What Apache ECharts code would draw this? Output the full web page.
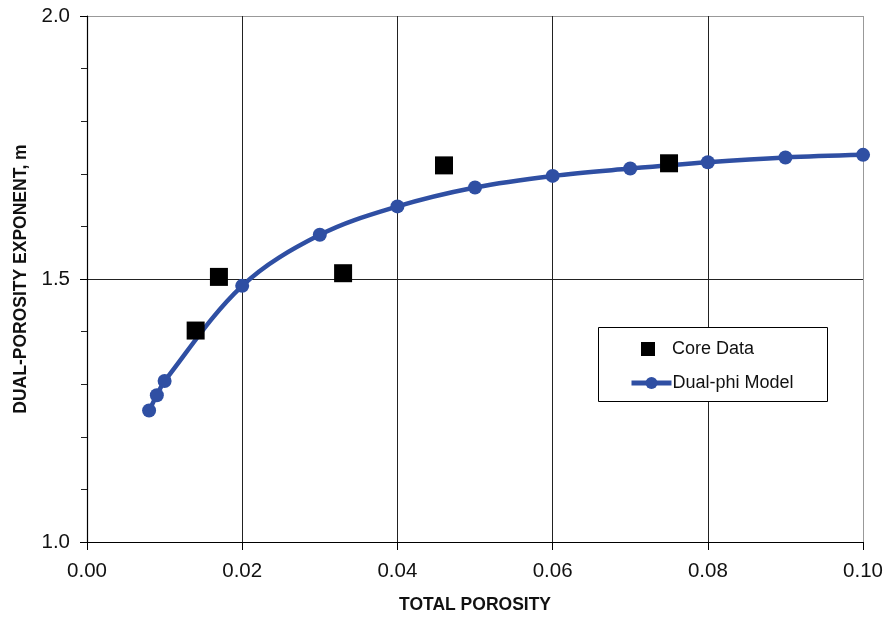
<!DOCTYPE html>
<html>
<head>
<meta charset="utf-8">
<script src="https://cdn.jsdelivr.net/npm/echarts@6/dist/echarts.min.js"></script>
<style>
  html, body { margin: 0; padding: 0; background: #fff; }
  #chart { width: 886px; height: 619px; }
</style>
</head>
<body>
<div id="chart"></div>
<script>
// Dual-phi model curve: total porosity vs. dual-porosity exponent m
const modelPorosity = [0.008, 0.009, 0.010, 0.020, 0.030, 0.040, 0.050, 0.060, 0.070, 0.080, 0.090, 0.100];
const modelM        = [1.250, 1.279, 1.306, 1.487, 1.584, 1.638, 1.674, 1.696, 1.710, 1.722, 1.731, 1.736];

// Core measurements
const corePorosity = [0.014, 0.017, 0.033, 0.046, 0.075];
const coreM        = [1.402, 1.504, 1.511, 1.716, 1.720];

const xTicks = { min: 0, max: 0.10, step: 0.02 };
const yTicks = { min: 1.0, max: 2.0, step: 0.5 };

const FONT = '"Liberation Sans", Arial, Helvetica, sans-serif';
const BLUE = '#2f4fa3';
const legendText = { fontFamily: FONT, fontSize: 18, color: '#111' };

const chart = echarts.init(document.getElementById('chart'), null, { renderer: 'canvas' });

chart.setOption({
  animation: false,
  backgroundColor: '#ffffff',
  textStyle: { fontFamily: FONT },
  grid: { left: 87, right: 20, top: 16, bottom: 75, containLabel: false },
  xAxis: {
    type: 'value',
    min: xTicks.min, max: xTicks.max, interval: xTicks.step,
    name: 'TOTAL POROSITY',
    nameLocation: 'middle',
    nameGap: 54,
    nameTextStyle: { fontFamily: FONT, fontSize: 17.5, fontWeight: 'bold', color: '#111' },
    axisLine: { onZero: false, lineStyle: { color: '#000', width: 1.2 } },
    axisTick: { show: true, inside: false, length: 8, lineStyle: { color: '#000', width: 1 } },
    axisLabel: {
      margin: 19, fontFamily: FONT, fontSize: 20.5, color: '#111',
      formatter: v => v.toFixed(2)
    },
    splitLine: {
      show: true,
      lineStyle: { color: ['#000', '#222', '#222', '#222', '#222', '#999'], width: 1 }
    }
  },
  yAxis: {
    type: 'value',
    min: yTicks.min, max: yTicks.max, interval: yTicks.step,
    name: 'DUAL-POROSITY EXPONENT, m',
    nameLocation: 'middle',
    nameGap: 57,
    nameTextStyle: { fontFamily: FONT, fontSize: 17.5, fontWeight: 'bold', color: '#111' },
    axisLine: { onZero: false, lineStyle: { color: '#000', width: 1.2 } },
    axisTick: { show: true, inside: false, length: 7, lineStyle: { color: '#000', width: 1 } },
    minorTick: { show: true, splitNumber: 5, length: 6, lineStyle: { color: '#222', width: 1 } },
    axisLabel: {
      margin: 17, fontFamily: FONT, fontSize: 20.5, color: '#111',
      formatter: v => v.toFixed(1)
    },
    splitLine: {
      show: true,
      lineStyle: { color: ['#000', '#222', '#999'], width: 1 }
    }
  },
  legend: [
    {
      left: 641, top: 340,
      padding: 0,
      itemWidth: 14, itemHeight: 14,
      textStyle: Object.assign({ padding: [0, 0, 0, 12] }, legendText),
      data: [{ name: 'Core Data', icon: 'rect' }]
    },
    {
      left: 629, top: 374,
      padding: 0,
      itemWidth: 40, itemHeight: 15,
      lineStyle: { width: 5, color: BLUE },
      textStyle: Object.assign({ padding: [0, 0, 0, -4] }, legendText),
      data: [{ name: 'Dual-phi Model' }]
    }
  ],
  graphic: [{
    type: 'rect',
    left: 598, top: 327,
    shape: { width: 229, height: 74 },
    style: { fill: '#fff', stroke: '#000', lineWidth: 1 },
    z: 2
  }],
  series: [
    {
      name: 'Dual-phi Model',
      type: 'line',
      data: modelPorosity.map((x, i) => [x, modelM[i]]),
      smooth: 0.35,
      symbol: 'circle',
      symbolSize: 14,
      lineStyle: { color: BLUE, width: 4.5 },
      itemStyle: { color: BLUE, opacity: 1 },
      z: 3
    },
    {
      name: 'Core Data',
      type: 'scatter',
      data: corePorosity.map((x, i) => [x, coreM[i]]),
      symbol: 'rect',
      symbolSize: 18,
      itemStyle: { color: '#000', opacity: 1 },
      z: 4
    }
  ]
});
</script>
</body>
</html>
